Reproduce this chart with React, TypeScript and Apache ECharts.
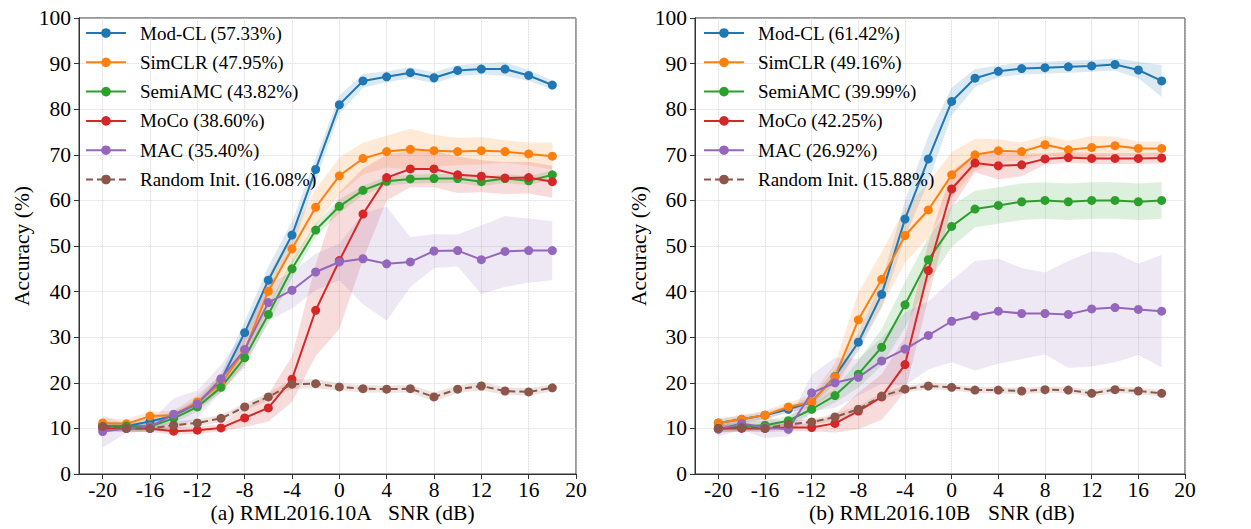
import React, { useEffect, useRef } from "react";
import * as echarts from "echarts";

const snr = [-20, -18, -16, -14, -12, -10, -8, -6, -4, -2, 0, 2, 4, 6, 8, 10, 12, 14, 16, 18];
const xTickValues = [-20, -16, -12, -8, -4, 0, 4, 8, 12, 16, 20];

const colors = ["#1f77b4", "#ff7f0e", "#2ca02c", "#d62728", "#9467bd", "#8c564b"];

const namesA = [
  "Mod-CL (57.33%)",
  "SimCLR (47.95%)",
  "SemiAMC (43.82%)",
  "MoCo (38.60%)",
  "MAC (35.40%)",
  "Random Init. (16.08%)",
];
const namesB = [
  "Mod-CL (61.42%)",
  "SimCLR (49.16%)",
  "SemiAMC (39.99%)",
  "MoCo (42.25%)",
  "MAC (26.92%)",
  "Random Init. (15.88%)",
];

const datasetA = "(a) RML2016.10A";
const datasetB = "(b) RML2016.10B";
const xTitle = "SNR (dB)";
const yTitle = "Accuracy (%)";

// Panel (a) RML2016.10A – mean accuracy
const modclA = [10.5, 10.5, 11.5, 12.8, 15.5, 20.5, 31.0, 42.5, 52.4, 66.8, 81.0, 86.2, 87.1, 88.0, 86.9, 88.5, 88.8, 88.8, 87.4, 85.3];
const simclrA = [11.2, 11.0, 12.7, 12.9, 15.8, 19.8, 27.1, 40.1, 49.4, 58.5, 65.4, 69.2, 70.7, 71.2, 70.9, 70.7, 70.9, 70.7, 70.2, 69.7];
const semiA = [10.4, 10.5, 10.4, 12.2, 14.7, 19.0, 25.5, 35.0, 45.0, 53.5, 58.7, 62.2, 64.2, 64.7, 64.8, 64.8, 64.1, 64.8, 64.3, 65.6];
const mocoA = [10.0, 10.0, 10.0, 9.4, 9.6, 10.1, 12.3, 14.5, 20.8, 35.9, 46.8, 57.0, 65.0, 66.9, 66.9, 65.6, 65.3, 64.9, 65.0, 64.1];
const macA = [9.3, 10.0, 10.4, 13.1, 15.3, 20.9, 27.3, 37.6, 40.3, 44.3, 46.5, 47.2, 46.1, 46.5, 48.9, 49.0, 47.0, 48.8, 49.0, 49.0];
const randA = [10.4, 10.0, 10.0, 10.7, 11.2, 12.2, 14.7, 16.9, 19.7, 19.8, 19.1, 18.7, 18.6, 18.7, 16.9, 18.6, 19.3, 18.2, 18.0, 18.9];

// Panel (a) – standard deviation (shaded band)
const modclSdA = [0.8, 0.8, 0.8, 0.8, 1, 1.5, 2.5, 3, 3, 2.5, 2, 1.5, 1.2, 1.2, 1.2, 1.2, 1.2, 1.5, 1.2, 1];
const simclrSdA = [1, 1, 1, 1, 1.5, 2, 3, 3.5, 3.5, 4, 4, 3.5, 3.5, 4.5, 3.5, 3, 3, 2.5, 2.5, 3];
const semiSdA = [1, 1, 1, 1, 1, 1, 1.5, 2, 2, 1.5, 1.5, 1, 1, 1, 1, 1, 1, 1, 1, 1];
const mocoSdA = [0.8, 0.8, 0.8, 0.8, 0.8, 0.8, 2, 3, 5, 10, 15, 10, 5, 4, 4, 4, 3.5, 3.5, 3.5, 3.5];
const macSdA = [3.5, 1, 1, 3.5, 3, 3, 4, 4, 4, 4, 4, 10, 12.5, 5.5, 3.7, 3.5, 7.5, 7.8, 7, 6.5];
const randSdA = [0.8, 0.8, 0.8, 0.8, 0.8, 0.8, 0.8, 0.8, 1, 1, 0.8, 0.8, 0.8, 0.8, 1, 0.8, 1, 0.8, 0.8, 0.8];

// Panel (b) RML2016.10B – mean accuracy
const modclB = [11.2, 12.0, 12.9, 14.2, 15.8, 21.4, 28.9, 39.4, 55.9, 69.1, 81.7, 86.8, 88.3, 88.9, 89.1, 89.3, 89.5, 89.8, 88.6, 86.2];
const simclrB = [11.2, 12.0, 12.9, 14.7, 15.8, 21.3, 33.8, 42.7, 52.3, 57.9, 65.6, 70.0, 70.9, 70.7, 72.2, 71.1, 71.6, 72.0, 71.4, 71.4];
const semiB = [10.0, 10.4, 10.7, 11.7, 14.2, 17.2, 21.9, 27.8, 37.1, 47.0, 54.3, 58.1, 58.9, 59.7, 60.0, 59.7, 60.0, 60.0, 59.7, 60.0];
const mocoB = [10.0, 10.0, 10.0, 10.2, 10.2, 11.1, 13.8, 16.9, 24.0, 44.6, 62.5, 68.2, 67.6, 67.8, 69.1, 69.4, 69.2, 69.2, 69.2, 69.3];
const macB = [9.8, 11.1, 10.2, 9.8, 17.8, 20.0, 21.2, 24.8, 27.4, 30.4, 33.5, 34.7, 35.7, 35.2, 35.2, 35.0, 36.2, 36.5, 36.1, 35.7];
const randB = [10.0, 10.2, 10.0, 10.9, 11.4, 12.5, 14.2, 17.1, 18.6, 19.3, 19.0, 18.4, 18.4, 18.2, 18.5, 18.4, 17.7, 18.5, 18.2, 17.7];

// Panel (b) – standard deviation
const modclSdB = [0.8, 0.8, 0.8, 0.8, 1, 1.5, 2, 3, 4, 5, 3, 2, 1.3, 1.3, 1.3, 1.3, 1.3, 1.3, 1.8, 3.5];
const simclrSdB = [1, 1, 1, 1, 1.5, 3, 6, 6, 6, 6, 5, 3.5, 2.5, 2, 2, 2, 2.5, 2, 1.5, 1.5];
const semiSdB = [1, 1, 1, 1, 1, 1.5, 3, 4, 5, 5, 4.5, 4, 4, 4, 4, 4, 4, 4, 4, 4];
const mocoSdB = [0.8, 0.8, 0.8, 0.8, 0.8, 2, 4, 5, 6, 6, 4, 2, 3, 2.5, 1.2, 1.2, 1.2, 1.2, 1.2, 1.2];
const macSdB = [1.5, 1.5, 2.3, 1.5, 4, 5.5, 4, 5, 8, 7.5, 9, 12, 11.5, 10, 9, 11.7, 12.6, 12, 10, 12.3];
const randSdB = [0.7, 0.7, 0.7, 0.7, 0.7, 0.7, 0.7, 0.7, 0.7, 0.7, 0.7, 0.7, 0.7, 0.7, 0.7, 0.7, 0.7, 0.7, 0.7, 0.7];

const meansA = [modclA, simclrA, semiA, mocoA, macA, randA];
const sdsA = [modclSdA, simclrSdA, semiSdA, mocoSdA, macSdA, randSdA];
const meansB = [modclB, simclrB, semiB, mocoB, macB, randB];
const sdsB = [modclSdB, simclrSdB, semiSdB, mocoSdB, macSdB, randSdB];

const FONT = "'Liberation Serif', 'Times New Roman', serif";
const AXIS_COLOR = "#333";
const GRID_LINE = { color: "#cccccc", type: "dotted" as const, width: 0.8 };

function rgba(hex: string, a: number) {
  const n = parseInt(hex.slice(1), 16);
  return `rgba(${(n >> 16) & 255},${(n >> 8) & 255},${n & 255},${a})`;
}

function bandSeries(idx: number, mean: number[], sd: number[], color: string) {
  return {
    type: "custom",
    xAxisIndex: idx,
    yAxisIndex: idx,
    silent: true,
    z: 1,
    data: [[snr[0], mean[0]]],
    renderItem: (_params: any, api: any) => {
      const upper = snr.map((x, i) => api.coord([x, mean[i] + sd[i]]));
      const lower = snr.map((x, i) => api.coord([x, mean[i] - sd[i]])).reverse();
      return {
        type: "polygon",
        shape: { points: upper.concat(lower) },
        style: { fill: rgba(color, 0.16), stroke: "none" },
      };
    },
  };
}

function lineSeries(idx: number, name: string, values: number[], color: string, dashed: boolean) {
  return {
    type: "line",
    name,
    xAxisIndex: idx,
    yAxisIndex: idx,
    data: snr.map((x, i) => [x, values[i]]),
    symbol: "circle",
    symbolSize: 9,
    showSymbol: true,
    z: 2,
    lineStyle: { width: 2, color, type: dashed ? [7, 4] : "solid" },
    itemStyle: { color },
    emphasis: { disabled: true },
  };
}

function xAxisCfg(idx: number) {
  return {
    gridIndex: idx,
    type: "value",
    min: -22,
    max: 20,
    interval: 2,
    axisLine: { show: true, onZero: false, lineStyle: { color: AXIS_COLOR, width: 1 } },
    axisTick: { show: true, customValues: xTickValues, length: 5, lineStyle: { color: AXIS_COLOR } },
    axisLabel: {
      customValues: xTickValues,
      fontSize: 21.5,
      fontFamily: FONT,
      color: "#000",
      margin: 5,
      formatter: (v: number) => String(v),
    },
    splitLine: { show: true, lineStyle: GRID_LINE },
  };
}

function yAxisCfg(idx: number, gap: number) {
  return {
    gridIndex: idx,
    type: "value",
    min: 0,
    max: 100,
    interval: 10,
    name: yTitle,
    nameLocation: "middle",
    nameGap: gap,
    nameTextStyle: { fontSize: 21.5, fontFamily: FONT, color: "#000" },
    axisLine: { show: true, onZero: false, lineStyle: { color: AXIS_COLOR, width: 1 } },
    axisTick: { show: true, length: 5, lineStyle: { color: AXIS_COLOR } },
    axisLabel: { fontSize: 21.5, fontFamily: FONT, color: "#000", margin: 8 },
    splitLine: { show: true, lineStyle: GRID_LINE },
  };
}

function legendCfg(names: string[], left: number) {
  return {
    data: names,
    orient: "vertical",
    left,
    top: 23,
    itemWidth: 40,
    itemHeight: 12,
    itemGap: 9.3,
    selectedMode: false,
    backgroundColor: "transparent",
    padding: 0,
    textStyle: { fontSize: 19, fontFamily: FONT, color: "#000", lineHeight: 20, padding: [0, 0, 0, 9] },
  };
}

function titleText(text: string, x: number) {
  return {
    type: "text",
    x,
    y: 513,
    style: {
      text,
      fontSize: 21.5,
      fontFamily: FONT,
      fill: "#000",
      textAlign: "left",
      textVerticalAlign: "middle",
    },
  };
}

export default function App() {
  const ref = useRef<HTMLDivElement>(null);
  useEffect(() => {
    if (!ref.current) return;
    const chart = echarts.init(ref.current, null, { renderer: "svg" });
    const series: any[] = [];
    meansA.forEach((m, i) => series.push(bandSeries(0, m, sdsA[i], colors[i])));
    meansB.forEach((m, i) => series.push(bandSeries(1, m, sdsB[i], colors[i])));
    meansA.forEach((m, i) => series.push(lineSeries(0, namesA[i], m, colors[i], i === 5)));
    meansB.forEach((m, i) => series.push(lineSeries(1, namesB[i], m, colors[i], i === 5)));

    chart.setOption({
      animation: false,
      backgroundColor: "#fff",
      grid: [
        { left: 79, top: 18, width: 497, height: 456, show: true, borderColor: AXIS_COLOR, borderWidth: 1, backgroundColor: "transparent" },
        { left: 695, top: 18, width: 490, height: 456, show: true, borderColor: AXIS_COLOR, borderWidth: 1, backgroundColor: "transparent" },
      ],
      xAxis: [xAxisCfg(0), xAxisCfg(1)],
      yAxis: [yAxisCfg(0, 46), yAxisCfg(1, 45)],
      legend: [legendCfg(namesA, 85), legendCfg(namesB, 703)],
      graphic: [
        titleText(datasetA, 210.5),
        titleText(xTitle, 388),
        titleText(datasetB, 809),
        titleText(xTitle, 988),
      ],
      series,
    });
    return () => chart.dispose();
  }, []);
  return (
    <div
      ref={ref}
      style={{ position: "absolute", left: 0, top: 0, width: 1251, height: 529, background: "#fff" }}
    />
  );
}
